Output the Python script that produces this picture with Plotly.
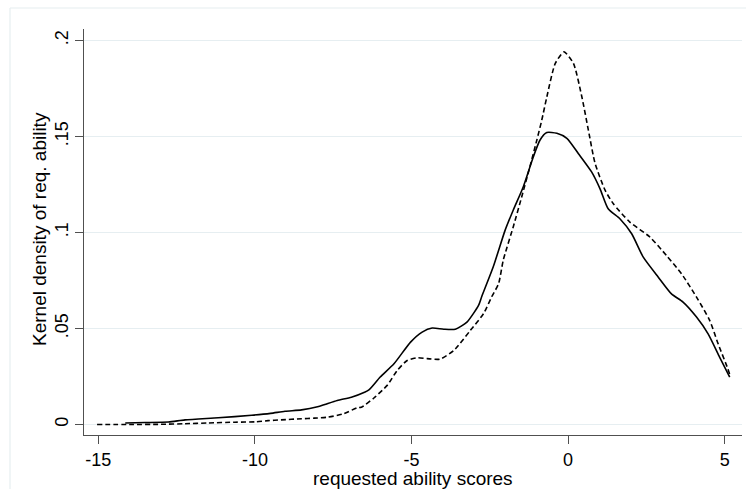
import plotly.graph_objects as go

# Solid line: kernel density (series 1)
solid_x = [-14.14, -13.5, -12.76, -12.23, -11.17, -10.1, -9.5, -9.04, -8.51, -8.0, -7.77, -7.37,
           -6.92, -6.5, -6.36, -6.0, -5.56, -5.03, -4.66, -4.34, -3.97, -3.6, -3.23, -2.86,
           -2.76, -2.39, -2.01, -1.75, -1.43, -1.11, -0.90, -0.68, -0.36, -0.04, 0.33, 0.75,
           1.02, 1.28, 1.66, 2.03, 2.4, 2.88, 3.30, 3.67, 4.10, 4.47, 4.84, 5.16]
solid_y = [0.0008, 0.001, 0.0013, 0.0024, 0.0035, 0.0048, 0.0058, 0.0069, 0.0076, 0.0092, 0.0104, 0.0125,
           0.0142, 0.0168, 0.018, 0.0247, 0.0316, 0.0429, 0.0481, 0.0502, 0.0496, 0.0496, 0.0533, 0.062,
           0.0665, 0.0821, 0.1012, 0.1117, 0.1238, 0.1394, 0.148, 0.152, 0.1516, 0.149, 0.141, 0.1315,
           0.1227, 0.1123, 0.107, 0.0993, 0.0871, 0.0767, 0.068, 0.0637, 0.0559, 0.0472, 0.035, 0.0247]

# Dashed line: kernel density (series 2)
dash_x = [-15.04, -14.0, -13.0, -12.23, -11.5, -10.64, -9.97, -9.58, -9.17, -8.51, -8.11, -7.67,
          -7.16, -6.73, -6.6, -6.2, -5.77, -5.46, -5.14, -4.82, -4.5, -4.1, -3.65, -3.12,
          -2.70, -2.44, -2.22, -2.07, -1.75, -1.48, -1.22, -1.0, -0.84, -0.68, -0.41, -0.13,
          0.17, 0.44, 0.65, 0.86, 1.18, 1.44, 1.97, 2.61, 3.14, 3.62, 4.10, 4.52, 4.79, 5.1, 5.16]
dash_y = [0.0, 0.0, 0.0001, 0.0004, 0.0008, 0.0012, 0.0014, 0.002, 0.0024, 0.003, 0.0033, 0.0038,
          0.0056, 0.0088, 0.009, 0.0138, 0.0205, 0.0281, 0.0333, 0.0347, 0.0343, 0.034, 0.0385, 0.049,
          0.0577, 0.0665, 0.0733, 0.0856, 0.103, 0.1186, 0.1342, 0.148, 0.1585, 0.1705, 0.188, 0.194,
          0.188, 0.1705, 0.153, 0.136, 0.122, 0.115, 0.1054, 0.0976, 0.088, 0.0785, 0.0663, 0.0542, 0.042, 0.029, 0.026]

x_ticks = [-15, -10, -5, 0, 5]
x_ticktext = ["-15", "-10", "-5", "0", "5"]
y_ticks = [0, 0.05, 0.1, 0.15, 0.2]
y_ticktext = ["0", ".05", ".1", ".15", ".2"]

x_title = "requested ability scores"
y_title = "Kernel density of req. ability"

FONT = "Liberation Sans, Arial, sans-serif"

fig = go.Figure()
fig.add_trace(go.Scatter(x=solid_x, y=solid_y, mode="lines",
                         line=dict(color="black", width=1.6, shape="spline", smoothing=0.6),
                         showlegend=False))
fig.add_trace(go.Scatter(x=dash_x, y=dash_y, mode="lines",
                         line=dict(color="black", width=1.6, dash="5px,3px", shape="spline", smoothing=0.6),
                         showlegend=False))

W, H = 746, 489
L, R, T, B = 84, 4, 29, 54
pw, ph = W - L - R, H - T - B

def px2paper_x(px):
    return (px - L) / pw

def px2paper_y(py):
    return (H - B - py) / ph

frame_col = "#E6EEF0"
fig.add_shape(type="line", xref="paper", yref="paper",
              x0=px2paper_x(10), x1=px2paper_x(760), y0=px2paper_y(8), y1=px2paper_y(8),
              line=dict(color=frame_col, width=1.2))
fig.add_shape(type="line", xref="paper", yref="paper",
              x0=px2paper_x(10), x1=px2paper_x(10), y0=px2paper_y(8), y1=px2paper_y(500),
              line=dict(color=frame_col, width=1.2))

fig.add_annotation(text=x_title, xref="paper", yref="paper",
                   x=px2paper_x(413), y=px2paper_y(478), xanchor="center", yanchor="middle",
                   showarrow=False, font=dict(family=FONT, size=19, color="black"))
fig.add_annotation(text=y_title, xref="paper", yref="paper", textangle=-90,
                   x=px2paper_x(40), y=px2paper_y(229), xanchor="center", yanchor="middle",
                   showarrow=False, font=dict(family=FONT, size=19, color="black"))

fig.update_layout(
    width=W, height=H,
    margin=dict(l=L, r=R, t=T, b=B, pad=0),
    paper_bgcolor="white", plot_bgcolor="white",
    font=dict(family=FONT, size=18, color="black"),
    showlegend=False,
)
fig.update_xaxes(
    range=[-15.457, 5.552], tickvals=x_ticks, ticktext=x_ticktext, automargin=False,
    showgrid=False, zeroline=False, showline=True, linecolor="#505050", linewidth=1.2,
    ticks="outside", ticklen=8, tickcolor="#505050", tickwidth=1.2,
    tickfont=dict(family=FONT, size=18, color="black"),
)
fig.update_yaxes(
    range=[-0.00547, 0.2059], tickvals=y_ticks, ticktext=y_ticktext, tickangle=-90, automargin=False,
    showgrid=True, gridcolor="#E6EEF1", gridwidth=1.2, zeroline=False,
    showline=True, linecolor="#505050", linewidth=1.2,
    ticks="outside", ticklen=8, tickcolor="#505050", tickwidth=1.2,
    tickfont=dict(family=FONT, size=18, color="black"),
)

fig.write_html("out.html", config={"displayModeBar": False},
               post_script="document.body.style.margin='0';document.body.style.padding='0';"
                           "document.body.style.overflow='hidden';")
